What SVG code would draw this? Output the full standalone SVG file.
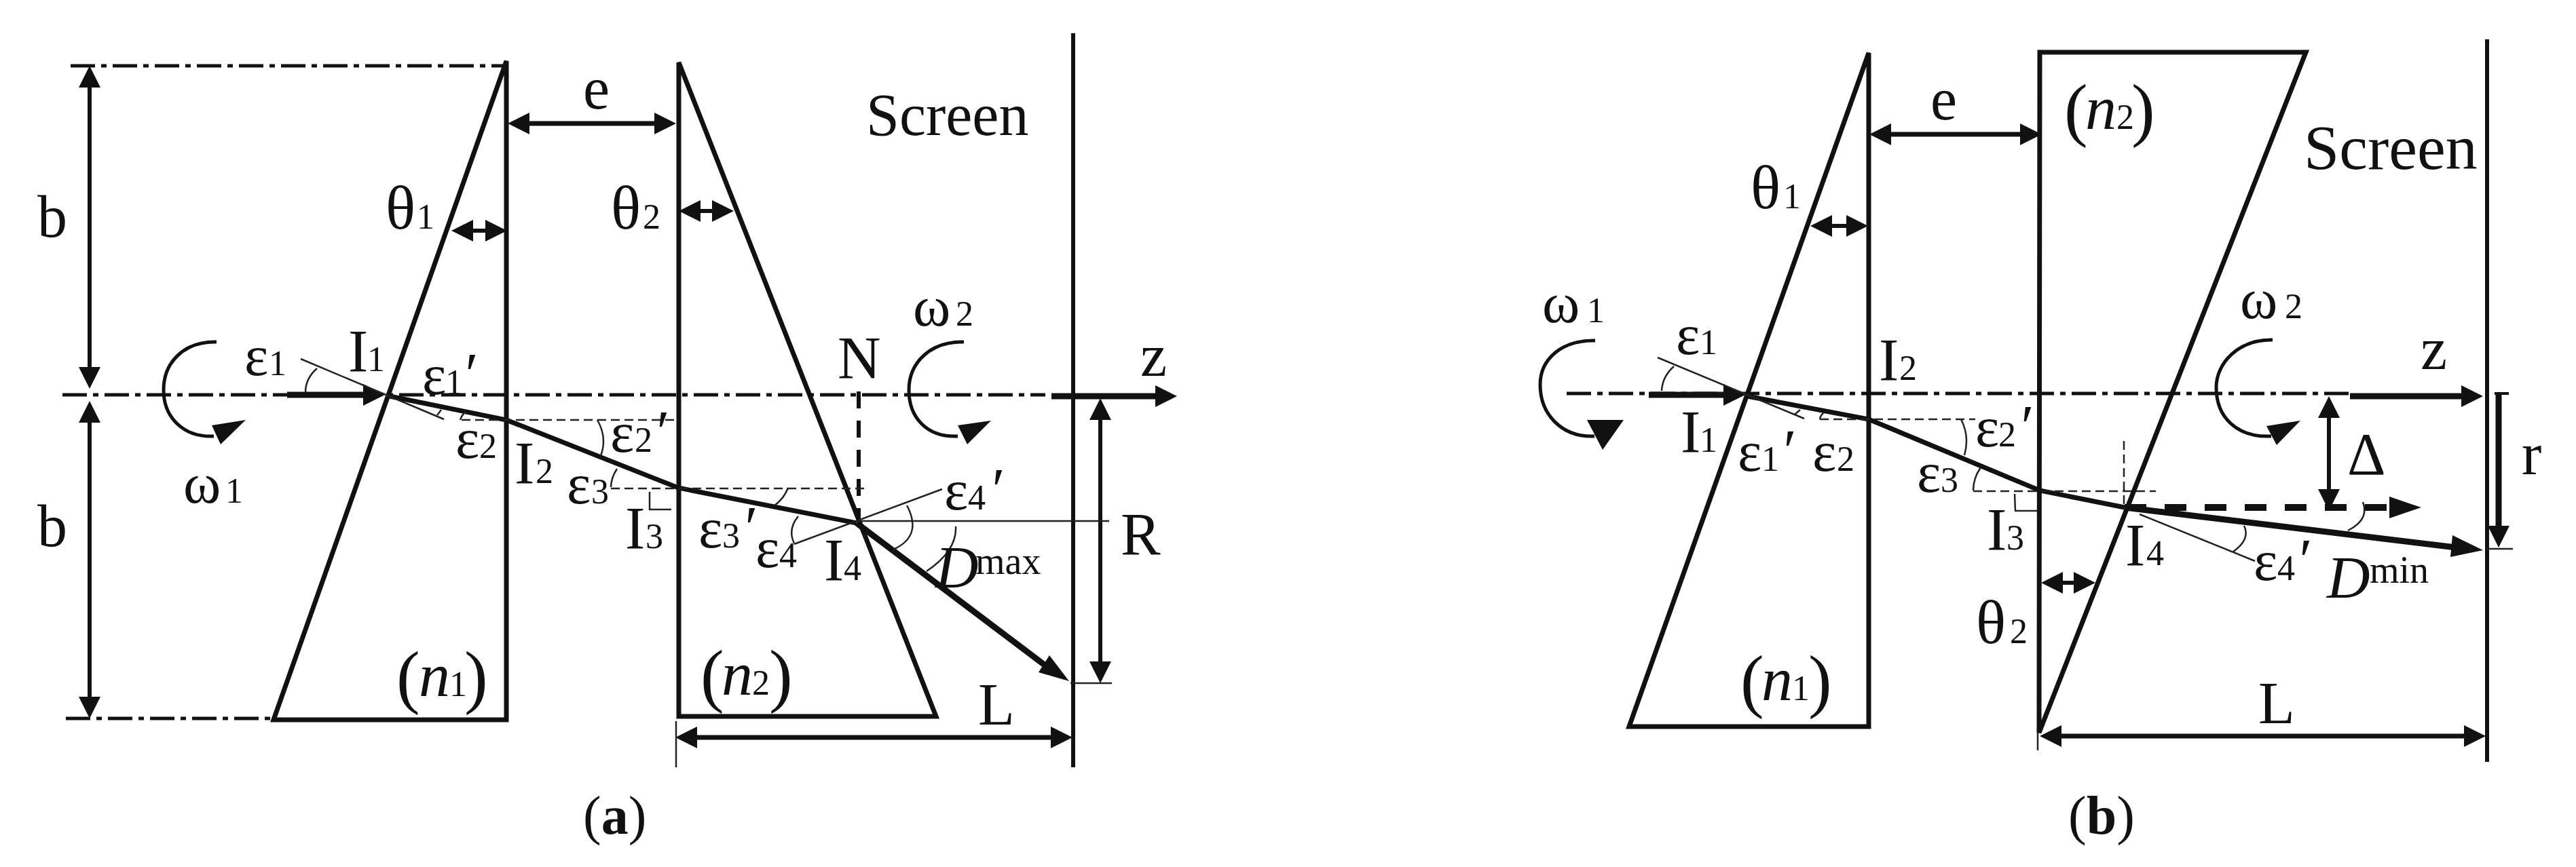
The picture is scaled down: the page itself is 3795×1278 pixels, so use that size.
<svg xmlns="http://www.w3.org/2000/svg" width="3795" height="1278" viewBox="0 0 3795 1278">
<style>
text{font-family:"Liberation Serif","Times New Roman",serif;fill:#111}
.m{font-size:88px}.g{font-size:84px}.th{font-size:92px}.s{font-size:52px}.i{font-style:italic}.p{font-size:88px;font-style:italic}.sup{font-size:56px}.cap{font-size:80px}.par{font-size:104px}.n{font-size:92px;font-style:italic}
.prism{fill:none;stroke:#111;stroke-width:7;stroke-linejoin:miter}
.dim{fill:none;stroke:#111;stroke-width:6}
.dimb{fill:none;stroke:#111;stroke-width:7}
.axis{fill:none;stroke:#111;stroke-width:5;stroke-dasharray:36 9 8 9}
.axis2{fill:none;stroke:#111;stroke-width:4;stroke-dasharray:30 9 7 9}
.ray{fill:none;stroke:#111;stroke-width:7}
.rayb{fill:none;stroke:#111;stroke-width:9}
.thin{fill:none;stroke:#222;stroke-width:2.5}
.dash{fill:none;stroke:#222;stroke-width:2.5;stroke-dasharray:13 7}
.rot{fill:none;stroke:#111;stroke-width:5}
.hd{fill:#111;stroke:none}
</style>
<defs>
<marker id="ah" markerUnits="userSpaceOnUse" markerWidth="34" markerHeight="34" refX="0" refY="16" orient="auto-start-reverse"><path d="M0 0L32 16L0 32Z" fill="#111"/></marker>
</defs>
<rect width="3795" height="1278" fill="#fff"/>

<g id="panel-a-prisms">
<path id="a-prism1" class="prism" d="M746 90V1061H403Z"/>
<path id="a-prism2" class="prism" d="M1000 92V1056H1379Z"/>
<path id="a-screen" class="dim" d="M1581 49V1131"/>
</g>

<g id="panel-a-connectors">
<path class="axis" d="M104 97H743"/>
<path class="axis" d="M97 1059H400"/>
<path class="axis" d="M92 582H1540"/>
<path class="dim" d="M132 129V541" marker-start="url(#ah)" marker-end="url(#ah)"/>
<path class="dim" d="M132 623V1027" marker-start="url(#ah)" marker-end="url(#ah)"/>
<path class="dimb" d="M780 182H964" marker-start="url(#ah)" marker-end="url(#ah)"/>
<path class="dim" d="M697 340H715" marker-start="url(#ah)" marker-end="url(#ah)"/>
<path class="dim" d="M1032 311H1049" marker-start="url(#ah)" marker-end="url(#ah)"/>
<path class="rayb" d="M1549 584H1702" marker-end="url(#ah)"/>
<path class="dim" d="M1621 619V975" marker-start="url(#ah)" marker-end="url(#ah)"/>
<path class="dimb" d="M1027 1087H1548" marker-start="url(#ah)" marker-end="url(#ah)"/>
<path class="thin" d="M996 1063V1131M1577 1007H1638M1262 768H1634"/>
<path class="rayb" d="M423 582H535" marker-end="url(#ah)"/>
<path class="ray" d="M574 584L746 619L999 719L1262 771"/>
<path class="rayb" d="M1262 771L1540 981"/>
<path class="hd" d="M1575 1004L1530 991L1546 966Z"/>
<path d="M1265 577V766" fill="none" stroke="#111" stroke-width="6" stroke-dasharray="25 18"/>
<path class="dash" d="M680 619H1000M900 720H1276"/>
<path class="thin" d="M443 529L654 618M1170 802L1388 721M957 725V751H989"/>
<path class="thin" d="M467 543Q450 558 450 578M650 604L644 612M686 607Q680 612 678 619M880 619Q895 645 885 672M909 691Q900 705 900 718M1161 719Q1155 735 1141 745M1176 761Q1160 780 1170 801M1336 745Q1360 790 1316 810M1408 776Q1410 812 1365 842"/>
<path class="rot" d="M319 504C270 503 241 535 241 575C241 615 270 645 315 643"/>
<path class="hd" d="M362 619L312 627L325 655Z"/>
<path class="rot" d="M1420 504C1370 503 1339 535 1339 575C1339 615 1365 645 1411 643"/>
<path class="hd" d="M1460 620L1411 627L1425 655Z"/>
</g>

<g id="panel-a-labels">
<text class="m" x="55" y="349">b</text>
<text class="m" x="55" y="805">b</text>
<text class="m" x="859" y="160">e</text>
<text class="th" x="568" y="337">θ<tspan class="s" x="614">1</tspan></text>
<text class="th" x="900" y="337">θ<tspan class="s" x="947">2</tspan></text>
<text x="1276" y="199" style="font-size:88px">Screen</text>
<text class="m" x="1234" y="557">N</text>
<text class="m" x="1680" y="554">z</text>
<text class="m" x="513" y="547">I<tspan class="s" x="541">1</tspan></text>
<text class="g" x="360" y="553">ε<tspan class="s" x="396">1</tspan></text>
<text class="g" x="622" y="581">ε<tspan class="s" x="656">1</tspan><tspan class="p" x="680">′</tspan></text>
<text class="g" x="270" y="741">ω<tspan class="s" x="332">1</tspan></text>
<text class="g" x="1345" y="480">ω<tspan class="s" x="1408">2</tspan></text>
<text class="g" x="671" y="675">ε<tspan class="s" x="706">2</tspan></text>
<text class="m" x="758" y="712">I<tspan class="s" x="789">2</tspan></text>
<text class="g" x="899" y="666">ε<tspan class="s" x="935">2</tspan><tspan class="p" x="962">′</tspan></text>
<text class="g" x="835" y="742">ε<tspan class="s" x="871">3</tspan></text>
<text class="m" x="921" y="808">I<tspan class="s" x="951">3</tspan></text>
<text class="g" x="1029" y="807">ε<tspan class="s" x="1064">3</tspan><tspan class="p" x="1092">′</tspan></text>
<text class="g" x="1113" y="836">ε<tspan class="s" x="1148">4</tspan></text>
<text class="g" x="1391" y="751">ε<tspan class="s" x="1426">4</tspan><tspan class="p" x="1456">′</tspan></text>
<text class="m" x="1214" y="855">I<tspan class="s" x="1243">4</tspan></text>
<text class="m i" x="1378" y="866">D</text><text class="sup" x="1437" y="846">max</text>
<text class="m" x="1651" y="817">R</text>
<text class="m" x="1441" y="1068">L</text>
<text class="par" x="584" y="1032">(<tspan class="n" x="617" dy="-6">n</tspan><tspan class="s" x="662">1</tspan><tspan class="par" x="684" dy="6">)</tspan></text>
<text class="par" x="1032" y="1030">(<tspan class="n" x="1063" dy="-6">n</tspan><tspan class="s" x="1108">2</tspan><tspan class="par" x="1133" dy="6">)</tspan></text>
<text class="cap" x="859" y="1229">(<tspan font-weight="700">a</tspan>)</text>
</g>

<g id="panel-b-prisms">
<path id="b-prism1" class="prism" d="M2753 78V1071H2400Z"/>
<path id="b-prism2" class="prism" d="M3005 77H3397L3004 1080Z"/>
<path id="b-screen" class="dim" d="M3664 58V1123"/>
</g>

<g id="panel-b-connectors">
<path class="axis" d="M2308 580H3462"/>
<path class="axis2" d="M3675 580H3696"/>
<path class="dimb" d="M2786 198H2976" marker-start="url(#ah)" marker-end="url(#ah)"/>
<path class="dim" d="M2699 333H2720" marker-start="url(#ah)" marker-end="url(#ah)"/>
<path class="dim" d="M3039 859H3055" marker-start="url(#ah)" marker-end="url(#ah)"/>
<path class="dimb" d="M3037 1085H3630" marker-start="url(#ah)" marker-end="url(#ah)"/>
<path class="rayb" d="M3462 584H3626" marker-end="url(#ah)"/>
<path class="dim" d="M3431 616V721" marker-start="url(#ah)" marker-end="url(#ah)"/>
<path d="M3681 582V775" class="rayb" marker-end="url(#ah)"/>
<path class="thin" d="M3002 1080V1106M3664 809H3702"/>
<path class="rayb" d="M2429 582H2539" marker-end="url(#ah)"/>
<path class="ray" d="M2574 584L2753 618L3005 723L3130 748"/>
<path class="rayb" d="M3130 748L3618 807"/>
<path class="hd" d="M3658 811L3610 821L3613 789Z"/>
<path d="M3130 748H3535" fill="none" stroke="#111" stroke-width="10" stroke-dasharray="32 27"/>
<path class="hd" d="M3567 748L3520 732V764Z"/>
<path class="dash" d="M2681 618H2910M2907 724H3176M3129 650V748"/>
<path class="thin" d="M2442 527L2658 617M3152 758L3322 827M2968 728L2969 753H3001"/>
<path class="thin" d="M2466 540Q2449 555 2448 576M2652 604L2644 611M2687 608Q2682 612 2681 618M2889 618Q2902 643 2894 671M2918 689Q2907 705 2907 723M3306 775Q3316 795 3289 814M3481 740Q3491 766 3459 782"/>
<path class="rot" d="M2350 502C2300 501 2269 530 2269 567C2269 610 2300 645 2349 643"/>
<path class="hd" d="M2392 619L2338 619L2361 663Z"/>
<path class="rot" d="M3348 501C3298 500 3265 535 3265 571C3265 615 3295 645 3346 643"/>
<path class="hd" d="M3389 620L3339 628L3354 656Z"/>
</g>

<g id="panel-b-labels">
<text class="m" x="2844" y="176">e</text>
<text class="th" x="2579" y="307">θ<tspan class="s" x="2627">1</tspan></text>
<text class="th" x="2911" y="948">θ<tspan class="s" x="2961">2</tspan></text>
<text x="3394" y="249" style="font-size:94px">Screen</text>
<text class="m" x="3566" y="544">z</text>
<text class="m" x="3715" y="699">r</text>
<text class="m" x="3458" y="699">Δ</text>
<text class="g" x="2272" y="475">ω<tspan class="s" x="2338">1</tspan></text>
<text class="g" x="3300" y="469">ω<tspan class="s" x="3366">2</tspan></text>
<text class="g" x="2469" y="522">ε<tspan class="s" x="2504">1</tspan></text>
<text class="m" x="2476" y="666">I<tspan class="s" x="2504">1</tspan></text>
<text class="g" x="2560" y="694">ε<tspan class="s" x="2595">1</tspan><tspan class="p" x="2622">′</tspan></text>
<text class="g" x="2670" y="694">ε<tspan class="s" x="2706">2</tspan></text>
<text class="m" x="2768" y="560">I<tspan class="s" x="2798">2</tspan></text>
<text class="g" x="2910" y="658">ε<tspan class="s" x="2944">2</tspan><tspan class="p" x="2972">′</tspan></text>
<text class="g" x="2824" y="725">ε<tspan class="s" x="2859">3</tspan></text>
<text class="m" x="2927" y="810">I<tspan class="s" x="2956">3</tspan></text>
<text class="m" x="3131" y="833">I<tspan class="s" x="3162">4</tspan></text>
<text class="g" x="3320" y="855">ε<tspan class="s" x="3355">4</tspan><tspan class="p" x="3382">′</tspan></text>
<text class="m i" x="3428" y="881">D</text><text class="sup" x="3491" y="859">min</text>
<text class="m" x="3327" y="1066">L</text>
<text class="par" x="2564" y="1038">(<tspan class="n" x="2595" dy="-6">n</tspan><tspan class="s" x="2640">1</tspan><tspan class="par" x="2664" dy="6">)</tspan></text>
<text class="par" x="3041" y="196">(<tspan class="n" x="3072" dy="-6">n</tspan><tspan class="s" x="3118">2</tspan><tspan class="par" x="3140" dy="6">)</tspan></text>
<text class="cap" x="3047" y="1229">(<tspan font-weight="700">b</tspan>)</text>
</g>
</svg>
